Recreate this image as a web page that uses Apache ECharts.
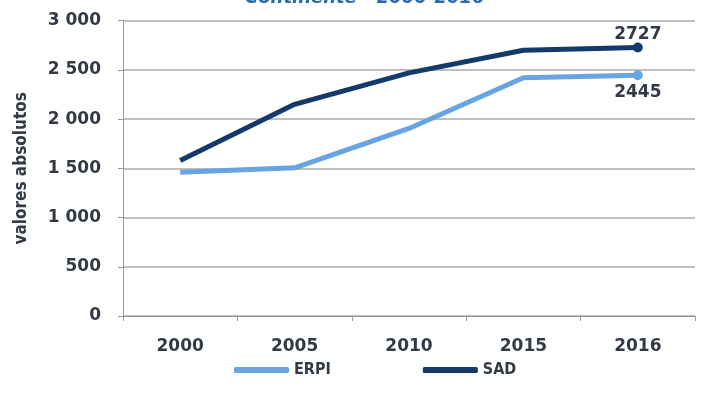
<!DOCTYPE html>
<html><head><meta charset="utf-8">
<script src="https://cdn.jsdelivr.net/npm/echarts@6/dist/echarts.min.js"></script>
<style>html,body{margin:0;padding:0;background:#fff}#c{width:701px;height:394px}</style>
</head><body><div id="c"></div>
<script>
const categories = ['2000','2005','2010','2015','2016'];
const erpi = [1460, 1505, 1905, 2420, 2445];
const sad = [1580, 2150, 2470, 2700, 2727];
const yTicks = [0, 500, 1000, 1500, 2000, 2500, 3000];
const titleText = 'Continente - 2000-2016';

const font = 'DejaVu Sans';
const txt = '#323a46';
const chart = echarts.init(document.getElementById('c'));
function lastLabel(arr, pos, dist) {
  return arr.map((v, i) => i === arr.length - 1 ? {
    value: v, symbol: 'circle', symbolSize: 10,
    label: {show: true, position: pos, distance: dist, formatter: String(v),
      fontFamily: font, fontWeight: 'bold', fontSize: 17, color: txt}
  } : {value: v, symbol: 'none'});
}
chart.setOption({
  animation: false,
  title: {text: titleText, left: 240, top: -16,
    textStyle: {fontFamily: font, fontStyle: 'italic', fontWeight: 'bold', fontSize: 18, color: '#2e6aa8'}},
  grid: {left: 123, right: 6, top: 20.7, bottom: 78},
  legend: {bottom: 11, left: 229, itemWidth: 55, itemHeight: 6, itemGap: 92,
    icon: 'roundRect',
    textStyle: {fontFamily: 'DejaVu Sans Condensed', fontWeight: 'bold', fontSize: 16, color: txt},
    data: ['ERPI', 'SAD']},
  xAxis: {type: 'category', data: categories, boundaryGap: true,
    axisLine: {lineStyle: {color: '#999', width: 1}},
    axisTick: {show: true, length: 5, lineStyle: {color: '#999'}},
    axisLabel: {fontFamily: font, fontWeight: 'bold', fontSize: 17, color: txt, margin: 22}},
  yAxis: {type: 'value', min: 0, max: 3000, interval: 500,
    name: 'valores absolutos', nameLocation: 'middle', nameGap: 93, nameRotate: 90,
    nameTextStyle: {fontFamily: 'DejaVu Sans Condensed', fontWeight: 'bold', fontSize: 17, color: txt},
    axisLine: {show: true, lineStyle: {color: '#999', width: 1}},
    axisTick: {show: true, length: 5, lineStyle: {color: '#999'}},
    splitLine: {lineStyle: {color: '#a8aaaa', width: 1.5}},
    axisLabel: {fontFamily: font, fontWeight: 'bold', fontSize: 17, color: txt, margin: 22,
      formatter: v => yTicks.includes(v) ? String(v).replace(/\B(?=(\d{3})+(?!\d))/g, ' ') : ''}},
  series: [
    {name: 'ERPI', type: 'line', data: lastLabel(erpi, 'bottom', 4), showSymbol: true,
      lineStyle: {color: '#68a4e2', width: 5}, itemStyle: {color: '#68a4e2'}, z: 2},
    {name: 'SAD', type: 'line', data: lastLabel(sad, 'top', -1), showSymbol: true,
      lineStyle: {color: '#143a6b', width: 5}, itemStyle: {color: '#143a6b'}, z: 3}
  ]
});
</script></body></html>
